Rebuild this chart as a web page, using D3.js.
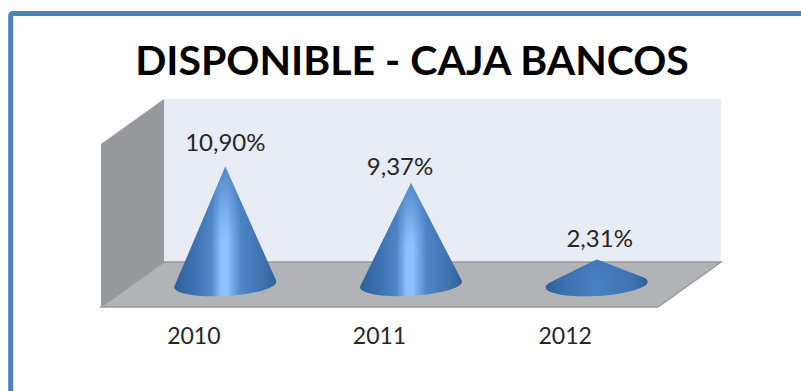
<!DOCTYPE html>
<html>
<head>
<meta charset="utf-8">
<script src="https://cdn.jsdelivr.net/npm/d3@7"></script>
<style>
  html, body { margin: 0; padding: 0; background: #fff; }
  svg { display: block; }
</style>
</head>
<body>
<svg id="chart" width="801" height="391"></svg>
<script>
const chartTitle = "DISPONIBLE - CAJA BANCOS";
const years = ["2010", "2011", "2012"];
const shares = [10.90, 9.37, 2.31];
const shareLabels = ["10,90%", "9,37%", "2,31%"];

const svg = d3.select("#chart");
const font = "Lato, Carlito, 'Open Sans', sans-serif";

// Box of the 3D plot: front edge of the floor plus the depth offset
const left = 101, right = 658, front = 307;
const depthX = 63, depthY = 45, wallHeight = 163;
const back = front - depthY;

const x = d3.scaleBand().domain(years).range([left, right]);
// Cones stand half way into the floor
const baseY = front - depthY / 2;
const y = d3.scaleLinear().domain([0, 12]).range([baseY, baseY - 130]);

// Frame around the slide, open towards the right and the bottom
svg.append("rect")
  .attr("x", 10.7).attr("y", 13.4)
  .attr("width", 830).attr("height", 420)
  .attr("rx", 2)
  .attr("fill", "#fff")
  .attr("stroke", "#4f81bd")
  .attr("stroke-width", 5);

svg.append("text")
  .attr("x", 412).attr("y", 75)
  .attr("text-anchor", "middle")
  .attr("font-family", font)
  .attr("font-weight", 700)
  .attr("font-size", 41)
  .attr("fill", "#000")
  .text(chartTitle);

const line = d3.line();

// Back wall, side wall and floor
svg.append("path")
  .attr("d", line([[left + depthX, back - wallHeight], [right + depthX, back - wallHeight],
                   [right + depthX, back], [left + depthX, back]]) + "Z")
  .attr("fill", "#e8ecf5");
svg.append("path")
  .attr("d", line([[left, front - wallHeight], [left + depthX, back - wallHeight],
                   [left + depthX, back], [left, front]]) + "Z")
  .attr("fill", "#98999d");
svg.append("path")
  .attr("d", line([[left, front], [left + depthX, back], [right + depthX, back], [right, front]]) + "Z")
  .attr("fill", "#b1b3b7");
svg.append("path")
  .attr("d", line([[left, front], [left + depthX, back], [right + depthX, back], [right, front]]) + "Z")
  .attr("fill", "none")
  .attr("stroke", "#9a9b9f")
  .attr("stroke-width", 1.5);

// Cone shading: the highlight fades out on flat cones
const glow = d3.scaleLinear().domain([2.31, 9.37]).range(["#467fc2", "#8cc2ff"]).clamp(true);
const defs = svg.append("defs");
shares.forEach((v, i) => {
  const shoulder = d3.interpolateRgb("#4379b8", glow(v))(0.18);
  const g = defs.append("linearGradient").attr("id", "cone" + i)
    .attr("x1", 0).attr("x2", 1).attr("y1", 0).attr("y2", 0);
  [[0, "#2c6098"], [0.2, "#3c72b1"], [0.36, shoulder], [0.46, glow(v)],
   [0.52, glow(v)], [0.65, shoulder], [0.86, "#3f74b0"], [1, "#2d6099"]]
    .forEach(([o, c]) => g.append("stop").attr("offset", o).attr("stop-color", c));
});

// The streak of light dims towards the tip
const tipShade = defs.append("linearGradient").attr("id", "tipShade")
  .attr("x1", 0).attr("x2", 0).attr("y1", 0).attr("y2", 1);
[[0, 0.75], [0.45, 0.1], [0.6, 0]].forEach(([o, a]) =>
  tipShade.append("stop").attr("offset", o).attr("stop-color", "#3f75b5").attr("stop-opacity", a));

const rx = x.bandwidth() * 0.275, ry = 11.5, tilt = -0.054;

// Cone outline: two tangents from the tip and the lower arc of the base
function conePath(v) {
  const h = baseY - y(v);
  const ty = -ry * ry / h;
  const tx = rx * Math.sqrt(1 - (ry / h) ** 2);
  return `M${-tx},${ty}L0,${-h}L${tx},${ty}A${rx},${ry} 0 1 1 ${-tx},${ty}Z`;
}

const coneTransform = (d, i) =>
  `matrix(1,${tilt},0,1,${x(years[i]) + x.bandwidth() / 2 + depthX / 2},${baseY})`;

const coneLayer = svg.append("g");
coneLayer.selectAll("path.body")
  .data(shares)
  .join("path")
  .attr("class", "body")
  .attr("transform", coneTransform)
  .attr("d", conePath)
  .attr("fill", (d, i) => `url(#cone${i})`);
coneLayer.selectAll("path.tip")
  .data(shares)
  .join("path")
  .attr("class", "tip")
  .attr("transform", coneTransform)
  .attr("d", conePath)
  .attr("fill", "url(#tipShade)");

// Value labels above each tip
const labelShift = [[0, -15], [-11, -8], [3, -12]];
svg.append("g").selectAll("text")
  .data(shareLabels)
  .join("text")
  .attr("x", (d, i) => x(years[i]) + x.bandwidth() / 2 + depthX / 2 + labelShift[i][0])
  .attr("y", (d, i) => y(shares[i]) + labelShift[i][1])
  .attr("text-anchor", "middle")
  .attr("font-family", font)
  .attr("font-size", 24)
  .attr("fill", "#262626")
  .text(d => d);

// Category axis under the front edge
const axis = svg.append("g")
  .attr("transform", `translate(0,${front})`)
  .call(d3.axisBottom(x).tickSize(0).tickPadding(21));
axis.select(".domain").remove();
axis.selectAll("text")
  .attr("font-family", font)
  .attr("font-size", 23)
  .attr("fill", "#262626");
</script>
</body>
</html>
